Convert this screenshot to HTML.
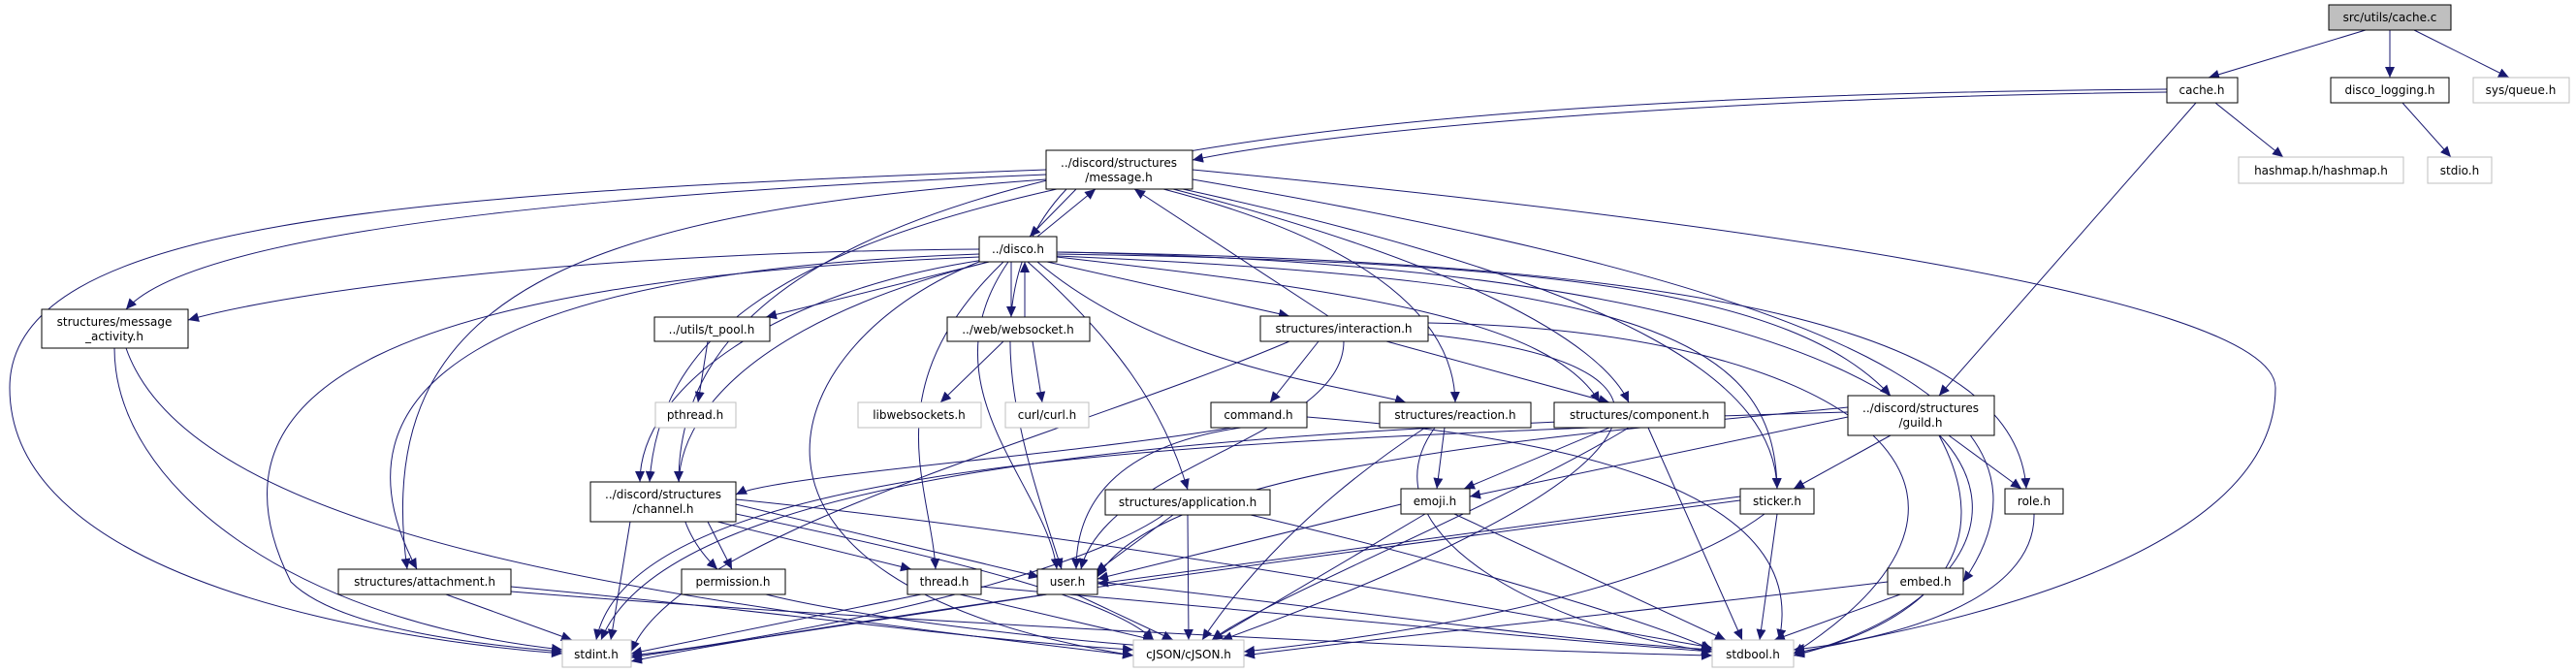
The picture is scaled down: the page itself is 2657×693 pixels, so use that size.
<!DOCTYPE html>
<html><head><meta charset="utf-8"><style>
html,body{margin:0;padding:0;background:#fff;}
svg{display:block;}
text{font-family:"DejaVu Sans","Liberation Sans",sans-serif;font-size:12px;fill:#000;}
.e{fill:none;stroke:#191970;stroke-width:1;marker-end:url(#a);}
.n{fill:#fff;stroke:#000;stroke-width:1;}
.g{fill:#fff;stroke:#bfbfbf;stroke-width:1;}
</style></head><body>
<svg width="2657" height="693" viewBox="0 0 2657 693" xmlns="http://www.w3.org/2000/svg">
<defs><marker id="a" markerWidth="12" markerHeight="10" refX="11" refY="5" orient="auto" markerUnits="userSpaceOnUse"><path d="M0,0 L11,5 L0,10 z" fill="#191970"/></marker></defs>
<g>
<path class="e" d="M2440,31 L2278,80"/>
<path class="e" d="M2465,31 L2465,80"/>
<path class="e" d="M2490,31 L2588,80"/>
<path class="e" d="M2478,106 L2528,162"/>
<path class="e" d="M2285,106 L2355,162"/>
<path class="e" d="M2235,95 C1800,100 1400,130 1230,165"/>
<path class="e" d="M2265,106 L2000,408"/>
<path class="e" d="M2235,92 C1200,100 700,200 700,497"/>
<path class="e" d="M1110,195 L1062,244"/>
<path class="e" d="M1070,244 L1130,195"/>
<path class="e" d="M1079,180 C600,200 200,240 130,319"/>
<path class="e" d="M1079,185 C600,220 380,300 420,587"/>
<path class="e" d="M1090,195 C800,260 680,350 670,497"/>
<path class="e" d="M1100,195 C1000,300 1050,450 1095,587"/>
<path class="e" d="M1079,175 C400,200 10,230 10,400 C10,600 400,660 580,674"/>
<path class="e" d="M1230,175 C1700,220 2347,300 2347,400 C2347,600 1900,660 1850,674"/>
<path class="e" d="M1200,195 C1450,260 1500,350 1501,415"/>
<path class="e" d="M1210,195 C1500,270 1650,350 1680,415"/>
<path class="e" d="M1220,195 C1700,300 1830,400 1833,504"/>
<path class="e" d="M1230,185 C1900,300 2150,420 2025,600"/>
<path class="e" d="M1370,326 L1170,195"/>
<path class="e" d="M1010,257 C600,260 300,300 194,330"/>
<path class="e" d="M1020,270 L790,327"/>
<path class="e" d="M1043,270 L1043,327"/>
<path class="e" d="M1057,327 L1057,270"/>
<path class="e" d="M1080,270 L1330,326"/>
<path class="e" d="M1010,262 C500,280 330,400 430,587"/>
<path class="e" d="M1015,268 C800,300 660,400 660,497"/>
<path class="e" d="M1020,270 C700,350 650,500 740,587"/>
<path class="e" d="M1035,270 C900,400 960,500 965,587"/>
<path class="e" d="M1040,270 C950,400 1080,500 1090,587"/>
<path class="e" d="M1010,265 C400,290 200,400 300,600 C350,650 500,665 580,672"/>
<path class="e" d="M1015,268 C800,350 700,600 1169,676"/>
<path class="e" d="M1090,260 C2200,280 2150,600 1850,676"/>
<path class="e" d="M1060,270 C1150,350 1200,420 1225,505"/>
<path class="e" d="M1070,270 C1200,380 1400,400 1450,415"/>
<path class="e" d="M1090,265 C1400,300 1600,330 1650,415"/>
<path class="e" d="M1090,262 C1600,270 1850,300 1950,408"/>
<path class="e" d="M1090,264 C1700,290 1830,350 1833,504"/>
<path class="e" d="M1090,260 C1800,270 2080,350 2090,504"/>
<path class="e" d="M1360,352 L1310,415"/>
<path class="e" d="M1430,352 L1660,415"/>
<path class="e" d="M1386,352 C1386,450 1140,480 1115,587"/>
<path class="e" d="M1330,352 C1100,450 700,550 651,672"/>
<path class="e" d="M1473,345 C1800,380 1700,500 1260,660"/>
<path class="e" d="M1473,333 C1900,340 2120,500 1850,674"/>
<path class="e" d="M1270,441 C1100,470 800,490 759,510"/>
<path class="e" d="M1280,441 C1150,460 1110,520 1110,587"/>
<path class="e" d="M1348,430 C1600,450 1870,500 1835,660"/>
<path class="e" d="M1490,441 L1482,504"/>
<path class="e" d="M1470,441 C1350,520 1280,600 1240,660"/>
<path class="e" d="M1480,441 C1400,550 1600,650 1766,672"/>
<path class="e" d="M1660,441 L1510,504"/>
<path class="e" d="M1700,441 L1797,660"/>
<path class="e" d="M1680,441 C1550,520 1300,620 1250,660"/>
<path class="e" d="M1640,441 C1200,460 650,480 615,660"/>
<path class="e" d="M1906,430 L1516,512"/>
<path class="e" d="M1950,449 L1850,504"/>
<path class="e" d="M2010,449 L2085,504"/>
<path class="e" d="M2000,449 C2060,560 2000,640 1850,676"/>
<path class="e" d="M1906,420 C1600,450 1200,480 1132,595"/>
<path class="e" d="M1906,425 C1400,440 700,460 620,660"/>
<path class="e" d="M730,538 L755,587"/>
<path class="e" d="M740,538 L940,587"/>
<path class="e" d="M759,520 L1072,595"/>
<path class="e" d="M650,538 L630,660"/>
<path class="e" d="M759,530 C1000,580 1150,620 1190,660"/>
<path class="e" d="M759,515 C1200,560 1600,640 1766,668"/>
<path class="e" d="M1210,531 L1130,590"/>
<path class="e" d="M1225,531 L1226,660"/>
<path class="e" d="M1290,531 C1500,580 1700,640 1766,670"/>
<path class="e" d="M1200,531 C1100,600 800,660 651,676"/>
<path class="e" d="M460,613 L590,660"/>
<path class="e" d="M527,605 C800,630 1000,660 1169,670"/>
<path class="e" d="M527,610 C900,640 1500,670 1766,676"/>
<path class="e" d="M790,613 C900,640 1100,660 1180,666"/>
<path class="e" d="M950,613 L651,674"/>
<path class="e" d="M990,613 L1190,660"/>
<path class="e" d="M1012,605 C1300,630 1600,660 1766,672"/>
<path class="e" d="M1080,613 L651,678"/>
<path class="e" d="M1110,613 L1210,660"/>
<path class="e" d="M1132,600 C1400,630 1600,660 1766,670"/>
<path class="e" d="M1445,520 L1132,597"/>
<path class="e" d="M1470,530 L1250,660"/>
<path class="e" d="M1500,530 L1780,660"/>
<path class="e" d="M1795,512 L1132,602"/>
<path class="e" d="M1795,516 C1300,580 800,650 651,682"/>
<path class="e" d="M1820,530 C1700,620 1400,660 1283,672"/>
<path class="e" d="M1833,530 L1815,660"/>
<path class="e" d="M2098,530 C2100,620 1950,660 1850,670"/>
<path class="e" d="M1960,613 L1830,660"/>
<path class="e" d="M1947,600 C1700,630 1400,660 1283,676"/>
<path class="e" d="M118,359 C118,500 300,640 580,670"/>
<path class="e" d="M130,359 C200,560 700,620 1169,676"/>
<path class="e" d="M730,352 L720,415"/>
<path class="e" d="M1035,352 L970,415"/>
<path class="e" d="M1065,352 L1075,415"/>
</g>
<g text-anchor="middle">
<rect x="2402" y="5" width="126" height="26" fill="#bfbfbf" stroke="#000"/><text x="2465" y="22">src/utils/cache.c</text>
<rect class="n" x="2235" y="80" width="73" height="26"/><text x="2271" y="97">cache.h</text>
<rect class="n" x="2404" y="80" width="122" height="26"/><text x="2465" y="97">disco_logging.h</text>
<rect class="g" x="2551" y="80" width="99" height="26"/><text x="2600" y="97">sys/queue.h</text>
<rect class="g" x="2309" y="162" width="170" height="27"/><text x="2394" y="180">hashmap.h/hashmap.h</text>
<rect class="g" x="2504" y="162" width="66" height="27"/><text x="2537" y="180">stdio.h</text>
<rect class="n" x="1079" y="155" width="151" height="40"/><text x="1154" y="172">../discord/structures</text><text x="1154" y="187">/message.h</text>
<rect class="n" x="1010" y="244" width="80" height="26"/><text x="1050" y="261">../disco.h</text>
<rect class="n" x="43" y="319" width="151" height="40"/><text x="118" y="336">structures/message</text><text x="118" y="351">_activity.h</text>
<rect class="n" x="675" y="327" width="119" height="25"/><text x="734" y="344">../utils/t_pool.h</text>
<rect class="n" x="977" y="327" width="147" height="25"/><text x="1050" y="344">../web/websocket.h</text>
<rect class="n" x="1300" y="326" width="173" height="26"/><text x="1386" y="343">structures/interaction.h</text>
<rect class="g" x="676" y="415" width="83" height="26"/><text x="717" y="432">pthread.h</text>
<rect class="g" x="885" y="415" width="127" height="26"/><text x="948" y="432">libwebsockets.h</text>
<rect class="g" x="1037" y="415" width="86" height="26"/><text x="1080" y="432">curl/curl.h</text>
<rect class="n" x="1249" y="415" width="99" height="26"/><text x="1298" y="432">command.h</text>
<rect class="n" x="1423" y="415" width="156" height="26"/><text x="1501" y="432">structures/reaction.h</text>
<rect class="n" x="1603" y="415" width="176" height="26"/><text x="1691" y="432">structures/component.h</text>
<rect class="n" x="1906" y="408" width="151" height="41"/><text x="1981" y="425">../discord/structures</text><text x="1981" y="440">/guild.h</text>
<rect class="n" x="609" y="497" width="150" height="41"/><text x="684" y="514">../discord/structures</text><text x="684" y="529">/channel.h</text>
<rect class="n" x="1140" y="505" width="170" height="26"/><text x="1225" y="522">structures/application.h</text>
<rect class="n" x="1445" y="504" width="71" height="26"/><text x="1480" y="521">emoji.h</text>
<rect class="n" x="1795" y="504" width="76" height="26"/><text x="1833" y="521">sticker.h</text>
<rect class="n" x="2068" y="504" width="60" height="26"/><text x="2098" y="521">role.h</text>
<rect class="n" x="349" y="587" width="178" height="26"/><text x="438" y="604">structures/attachment.h</text>
<rect class="n" x="703" y="587" width="107" height="26"/><text x="756" y="604">permission.h</text>
<rect class="n" x="936" y="587" width="76" height="26"/><text x="974" y="604">thread.h</text>
<rect class="n" x="1070" y="587" width="62" height="26"/><text x="1101" y="604">user.h</text>
<rect class="n" x="1947" y="586" width="78" height="27"/><text x="1986" y="604">embed.h</text>
<rect class="g" x="580" y="660" width="71" height="28"/><text x="615" y="679">stdint.h</text>
<rect class="g" x="1169" y="660" width="114" height="28"/><text x="1226" y="679">cJSON/cJSON.h</text>
<rect class="g" x="1766" y="660" width="84" height="28"/><text x="1808" y="679">stdbool.h</text>
</g>
</svg>
</body></html>
